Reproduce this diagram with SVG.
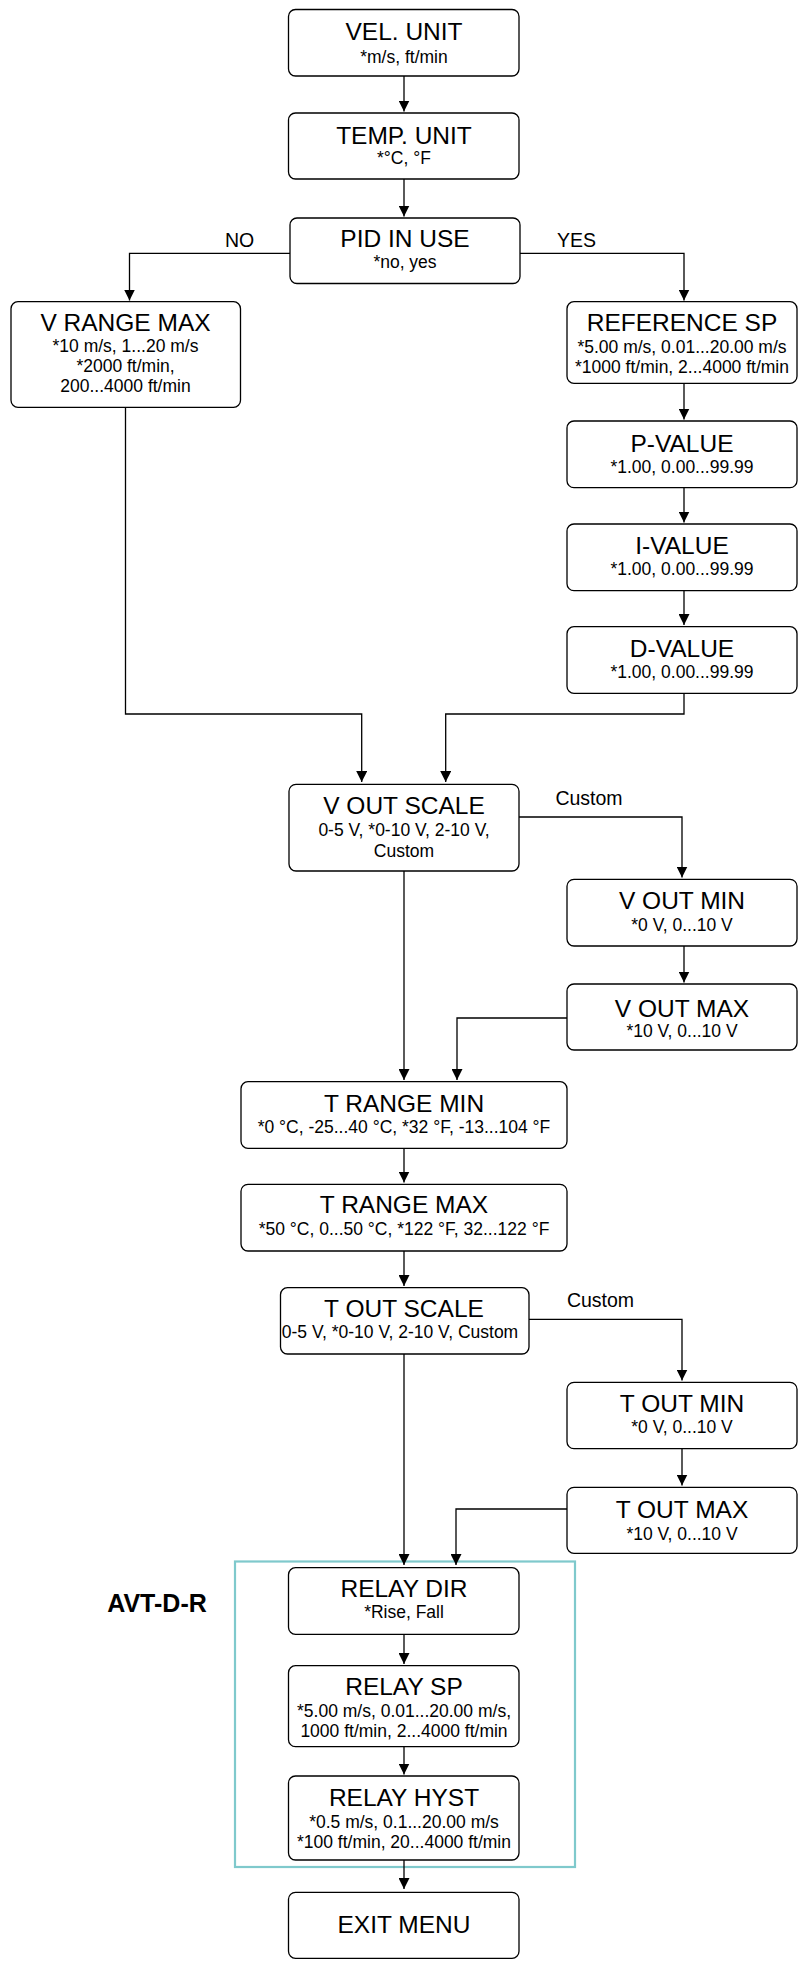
<svg xmlns="http://www.w3.org/2000/svg" width="799" height="1962" viewBox="0 0 799 1962">
<style>
.box{fill:#fff;stroke:#000;stroke-width:1.3}
.t{font-family:"Liberation Sans",Arial,sans-serif;font-size:24.5px;fill:#000;text-anchor:middle}
.s{font-family:"Liberation Sans",Arial,sans-serif;font-size:17.5px;fill:#000;text-anchor:middle}
.lbl{font-family:"Liberation Sans",Arial,sans-serif;font-size:19.5px;fill:#000;text-anchor:middle}
.c{fill:none;stroke:#000;stroke-width:1.3;marker-end:url(#ah)}
</style>
<defs>
<marker id="ah" markerUnits="userSpaceOnUse" markerWidth="11" markerHeight="11" viewBox="0 0 11 11" refX="11" refY="5.5" orient="auto">
<path d="M0,0 L11,5.5 L0,11 z" fill="#000"/>
</marker>
</defs>
<rect id="group-avt" x="235" y="1561.5" width="340" height="305.5" fill="none" stroke="#7fc9cc" stroke-width="2.2"/>
<text class="t" x="157" y="1611.5" style="font-weight:bold;font-size:25px">AVT-D-R</text>
<g id="connectors">
<path class="c" d="M404,76 V111.5"/>
<path class="c" d="M404,179 V216.5"/>
<path class="c" d="M290,253.3 H129.5 V300.5"/>
<path class="c" d="M520,253.3 H684 V300.5"/>
<path class="c" d="M684,383.3 V419.5"/>
<path class="c" d="M684,487.7 V522.5"/>
<path class="c" d="M684,590.7 V625"/>
<path class="c" d="M125.5,407.3 V714 H361.7 V782"/>
<path class="c" d="M684,693.3 V714 H445.7 V782"/>
<path class="c" d="M519,817 H682 V877.5"/>
<path class="c" d="M684,946 V982.5"/>
<path class="c" d="M567,1018 H457 V1080"/>
<path class="c" d="M404,871 V1080"/>
<path class="c" d="M404,1148.3 V1182.5"/>
<path class="c" d="M404,1251 V1286"/>
<path class="c" d="M529,1319.3 H682 V1380.5"/>
<path class="c" d="M682,1448.7 V1485.5"/>
<path class="c" d="M567,1509 H456 V1565"/>
<path class="c" d="M404,1354 V1565"/>
<path class="c" d="M404,1634.3 V1664"/>
<path class="c" d="M404,1746.7 V1774.5"/>
<path class="c" d="M404,1860 V1889"/>
<text class="lbl" x="239.5" y="247">NO</text>
<text class="lbl" x="576.5" y="247">YES</text>
<text class="lbl" x="589" y="805">Custom</text>
<text class="lbl" x="600.5" y="1307">Custom</text>
</g>
<g id="n-vel-unit">
<rect class="box" x="288.5" y="9.5" width="230.5" height="66.5" rx="7"/>
<text class="t" x="404" y="39.5">VEL. UNIT</text>
<text class="s" x="404" y="63">*m/s, ft/min</text>
</g>
<g id="n-temp-unit">
<rect class="box" x="288.5" y="113" width="230.5" height="66" rx="7"/>
<text class="t" x="404" y="143.5">TEMP. UNIT</text>
<text class="s" x="404" y="163.5">*°C, °F</text>
</g>
<g id="n-pid">
<rect class="box" x="290" y="218" width="230" height="65.5" rx="7"/>
<text class="t" x="405" y="247">PID IN USE</text>
<text class="s" x="405" y="268">*no, yes</text>
</g>
<g id="n-vrange-max">
<rect class="box" x="11" y="301.7" width="229.5" height="105.6" rx="7"/>
<text class="t" x="125.5" y="331">V RANGE MAX</text>
<text class="s" x="125.5" y="352">*10 m/s, 1...20 m/s</text>
<text class="s" x="125.5" y="372">*2000 ft/min,</text>
<text class="s" x="125.5" y="392">200...4000 ft/min</text>
</g>
<g id="n-ref-sp">
<rect class="box" x="567" y="301.7" width="230" height="81.6" rx="7"/>
<text class="t" x="682" y="331">REFERENCE SP</text>
<text class="s" x="682" y="353">*5.00 m/s, 0.01...20.00 m/s</text>
<text class="s" x="682" y="373">*1000 ft/min, 2...4000 ft/min</text>
</g>
<g id="n-p-value">
<rect class="box" x="567" y="421" width="230" height="66.7" rx="7"/>
<text class="t" x="682" y="451.7">P-VALUE</text>
<text class="s" x="682" y="473">*1.00, 0.00...99.99</text>
</g>
<g id="n-i-value">
<rect class="box" x="567" y="524" width="230" height="66.7" rx="7"/>
<text class="t" x="682" y="554.3">I-VALUE</text>
<text class="s" x="682" y="575">*1.00, 0.00...99.99</text>
</g>
<g id="n-d-value">
<rect class="box" x="567" y="626.7" width="230" height="66.6" rx="7"/>
<text class="t" x="682" y="657.3">D-VALUE</text>
<text class="s" x="682" y="678">*1.00, 0.00...99.99</text>
</g>
<g id="n-vout-scale">
<rect class="box" x="289" y="784.3" width="230" height="86.7" rx="7"/>
<text class="t" x="404" y="814">V OUT SCALE</text>
<text class="s" x="404" y="836">0-5 V, *0-10 V, 2-10 V,</text>
<text class="s" x="404" y="856.7">Custom</text>
</g>
<g id="n-vout-min">
<rect class="box" x="567" y="879.3" width="230" height="66.7" rx="7"/>
<text class="t" x="682" y="909.3">V OUT MIN</text>
<text class="s" x="682" y="930.7">*0 V, 0...10 V</text>
</g>
<g id="n-vout-max">
<rect class="box" x="567" y="984" width="230" height="66" rx="7"/>
<text class="t" x="682" y="1016.7">V OUT MAX</text>
<text class="s" x="682" y="1037.3">*10 V, 0...10 V</text>
</g>
<g id="n-trange-min">
<rect class="box" x="241" y="1081.7" width="326" height="66.6" rx="7"/>
<text class="t" x="404" y="1111.7">T RANGE MIN</text>
<text class="s" x="404" y="1132.7">*0 °C, -25...40 °C, *32 °F, -13...104 °F</text>
</g>
<g id="n-trange-max">
<rect class="box" x="241" y="1184.3" width="326" height="66.7" rx="7"/>
<text class="t" x="404" y="1213.3">T RANGE MAX</text>
<text class="s" x="404" y="1235">*50 °C, 0...50 °C, *122 °F, 32...122 °F</text>
</g>
<g id="n-tout-scale">
<rect class="box" x="280.5" y="1287.7" width="248.5" height="66.3" rx="7"/>
<text class="t" x="404" y="1317.3">T OUT SCALE</text>
<text class="s" x="400" y="1338.3">0-5 V, *0-10 V, 2-10 V, Custom</text>
</g>
<g id="n-tout-min">
<rect class="box" x="567" y="1382.3" width="230" height="66.4" rx="7"/>
<text class="t" x="682" y="1412.3">T OUT MIN</text>
<text class="s" x="682" y="1433.3">*0 V, 0...10 V</text>
</g>
<g id="n-tout-max">
<rect class="box" x="567" y="1487.3" width="230" height="66" rx="7"/>
<text class="t" x="682" y="1518.3">T OUT MAX</text>
<text class="s" x="682" y="1540">*10 V, 0...10 V</text>
</g>
<g id="n-relay-dir">
<rect class="box" x="288.5" y="1567.7" width="230.5" height="66.6" rx="7"/>
<text class="t" x="404" y="1596.7">RELAY DIR</text>
<text class="s" x="404" y="1618.3">*Rise, Fall</text>
</g>
<g id="n-relay-sp">
<rect class="box" x="288.5" y="1665.7" width="230.5" height="81" rx="7"/>
<text class="t" x="404" y="1695">RELAY SP</text>
<text class="s" x="404" y="1716.7">*5.00 m/s, 0.01...20.00 m/s,</text>
<text class="s" x="404" y="1737.3">1000 ft/min, 2...4000 ft/min</text>
</g>
<g id="n-relay-hyst">
<rect class="box" x="288.5" y="1776" width="230.5" height="84" rx="7"/>
<text class="t" x="404" y="1806">RELAY HYST</text>
<text class="s" x="404" y="1827.7">*0.5 m/s, 0.1...20.00 m/s</text>
<text class="s" x="404" y="1848.3">*100 ft/min, 20...4000 ft/min</text>
</g>
<g id="n-exit">
<rect class="box" x="288.5" y="1892.3" width="230.5" height="66" rx="7"/>
<text class="t" x="404" y="1933.3">EXIT MENU</text>
</g>
</svg>
